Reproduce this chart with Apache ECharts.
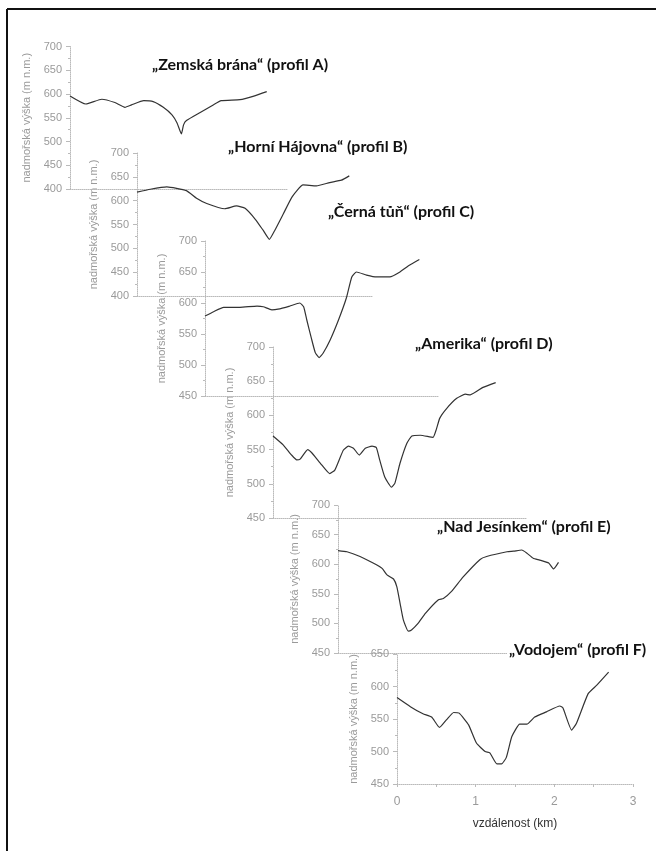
<!DOCTYPE html>
<html>
<head>
<meta charset="utf-8">
<script src="https://cdn.jsdelivr.net/npm/echarts@6/dist/echarts.min.js"></script>
<style>
  html, body { margin: 0; padding: 0; background: #fff; }
  #chart { width: 656px; height: 851px; }
</style>
</head>
<body>
<div id="chart"></div>
<script>
// Elevation profiles: distance along profile (km) and altitude (m n.m.)
const profileAKm   = [0, 0.22, 0.44, 0.62, 0.76, 0.85, 1.02, 1.15, 1.29, 1.41, 1.48, 1.54, 1.57, 1.61, 1.80, 1.98, 2.09, 2.35, 2.53, 2.72];
const profileAElev = [596, 579, 589, 582, 572, 577, 586, 584, 572, 556, 539, 516, 535, 544, 561, 577, 586, 588, 595, 605];

const profileBKm   = [0, 0.17, 0.38, 0.63, 0.76, 0.89, 1.12, 1.27, 1.38, 1.51, 1.61, 1.69, 1.76, 1.87, 1.98, 2.12, 2.29, 2.46, 2.61, 2.71];
const profileBElev = [618, 624, 629, 621, 605, 594, 583, 589, 584, 561, 538, 519, 538, 573, 608, 633, 631, 638, 643, 652];

const profileCKm   = [0, 0.11, 0.24, 0.45, 0.67, 0.75, 0.86, 0.94, 1.09, 1.22, 1.27, 1.31, 1.37, 1.42, 1.47, 1.52, 1.61, 1.72, 1.82, 1.89, 1.95, 2.08, 2.21, 2.38, 2.51, 2.62, 2.76];
const profileCElev = [579, 586, 593, 593, 595, 594, 589, 590, 595, 600, 594, 573, 543, 520, 512, 519, 540, 573, 608, 642, 650, 645, 642, 642, 650, 660, 670];

const profileDKm   = [0, 0.12, 0.22, 0.28, 0.32, 0.41, 0.46, 0.56, 0.67, 0.73, 0.83, 0.89, 0.95, 1.02, 1.09, 1.17, 1.22, 1.26, 1.32, 1.40, 1.44, 1.50, 1.58, 1.64, 1.74, 1.89, 1.93, 1.97, 2.05, 2.17, 2.27, 2.33, 2.48, 2.63];
const profileDElev = [570, 557, 542, 535, 536, 550, 545, 530, 515, 520, 549, 555, 552, 542, 552, 555, 553, 535, 510, 495, 501, 530, 559, 570, 571, 568, 580, 596, 610, 625, 631, 630, 641, 648];

const profileEKm   = [0, 0.11, 0.27, 0.43, 0.54, 0.60, 0.68, 0.72, 0.76, 0.80, 0.86, 0.90, 0.98, 1.07, 1.23, 1.29, 1.39, 1.53, 1.74, 1.82, 2.07, 2.15, 2.25, 2.31, 2.39, 2.47, 2.58, 2.64, 2.70];
const profileEElev = [623, 621, 613, 602, 593, 582, 575, 562, 534, 506, 487, 489, 500, 517, 540, 542, 554, 578, 608, 613, 621, 622, 624, 619, 610, 607, 602, 592, 603];

const profileFKm   = [0, 0.17, 0.33, 0.44, 0.54, 0.63, 0.72, 0.79, 0.91, 1.01, 1.12, 1.18, 1.27, 1.33, 1.39, 1.46, 1.56, 1.65, 1.75, 1.90, 2.07, 2.11, 2.22, 2.28, 2.43, 2.54, 2.69];
const profileFElev = [583, 569, 558, 553, 537, 549, 560, 559, 541, 513, 500, 498, 481, 481, 491, 523, 542, 542, 553, 561, 570, 567, 533, 543, 589, 602, 622];

const profileTitles = [
  '„Zemská brána“ (profil A)',
  '„Horní Hájovna“ (profil B)',
  '„Černá tůň“ (profil C)',
  '„Amerika“ (profil D)',
  '„Nad Jesínkem“ (profil E)',
  '„Vodojem“ (profil F)'
];
const yMins = [400, 400, 450, 450, 450, 450];
const yMaxs = [700, 700, 700, 700, 700, 650];
const xMaxKm = 3;
const xTickLabels = ['0', '1', '2', '3'];
const yAxisName = 'nadmořská výška (m n.m.)';
const xAxisName = 'vzdálenost (km)';

const profiles = [
  [profileAKm, profileAElev],
  [profileBKm, profileBElev],
  [profileCKm, profileCElev],
  [profileDKm, profileDElev],
  [profileEKm, profileEElev],
  [profileFKm, profileFElev]
];

// panel placement (px)
const panels = [
  { left: 70,  top: 46.5, width: 217, height: 142.5 },
  { left: 137, top: 153,  width: 235, height: 143 },
  { left: 205, top: 241,  width: 233, height: 155 },
  { left: 273, top: 347,  width: 254, height: 171 },
  { left: 338, top: 505,  width: 245, height: 148 },
  { left: 397, top: 654,  width: 236, height: 130 }
];
const titlePos = [
  { left: 150, top: 57 },
  { left: 226, top: 139 },
  { left: 326, top: 204 },
  { left: 413, top: 336 },
  { left: 435, top: 519 },
  { left: 507, top: 642 }
];

const gray = '#9a9a9a';
const lineGray = '#bababa';
const labelFont = '"Liberation Sans", Arial, sans-serif';
const last = profiles.length - 1;

const option = {
  animation: false,
  backgroundColor: '#fff',
  title: profileTitles.map((t, i) => ({
    text: t,
    left: titlePos[i].left,
    top: titlePos[i].top,
    padding: [0, 2],
    backgroundColor: '#fff',
    textStyle: { fontFamily: 'Lato, "Noto Sans", sans-serif', fontWeight: 'bold', fontSize: 16, color: '#111' }
  })),
  grid: panels.map(p => ({ left: p.left, top: p.top, width: p.width, height: p.height })),
  xAxis: panels.map((p, i) => ({
    type: 'value',
    gridIndex: i,
    min: 0,
    max: xMaxKm,
    interval: 1,
    name: i === last ? xAxisName : '',
    nameLocation: 'middle',
    nameGap: 34,
    nameTextStyle: { color: '#333', fontSize: 12, fontFamily: labelFont },
    axisLine: { show: true, onZero: false, lineStyle: { color: lineGray, type: 'dotted', width: 1 } },
    axisTick: { show: i === last, length: 3, lineStyle: { color: lineGray } },
    minorTick: { show: i === last, splitNumber: 2, length: 3, lineStyle: { color: lineGray } },
    axisLabel: {
      show: i === last, color: gray, fontSize: 12, margin: 12, fontFamily: labelFont,
      formatter: v => xTickLabels[Math.round(v)]
    },
    splitLine: { show: false }
  })),
  yAxis: panels.map((p, i) => ({
    type: 'value',
    gridIndex: i,
    min: yMins[i],
    max: yMaxs[i],
    interval: 50,
    name: yAxisName,
    nameLocation: 'middle',
    nameGap: 38,
    nameTextStyle: { color: gray, fontSize: 11, fontFamily: labelFont },
    axisLine: { show: true, onZero: false, lineStyle: { color: lineGray, type: 'dotted', width: 1 } },
    axisTick: { show: true, length: 4, lineStyle: { color: lineGray } },
    minorTick: { show: true, splitNumber: 2, length: 2, lineStyle: { color: lineGray } },
    axisLabel: { color: gray, fontSize: 11, margin: 8, fontFamily: labelFont },
    splitLine: { show: false }
  })),
  series: profiles.map((pr, i) => ({
    type: 'line',
    xAxisIndex: i,
    yAxisIndex: i,
    data: pr[0].map((km, j) => [km, pr[1][j]]),
    showSymbol: false,
    smooth: 0.15,
    lineStyle: { color: '#333', width: 1.2 },
    z: 3
  })),
  graphic: [
    { type: 'line', shape: { x1: 7, y1: 9, x2: 656, y2: 9 }, style: { stroke: '#111', lineWidth: 2 } },
    { type: 'line', shape: { x1: 7, y1: 9, x2: 7, y2: 851 }, style: { stroke: '#111', lineWidth: 2 } }
  ]
};

const chart = echarts.init(document.getElementById('chart'), null, { renderer: 'canvas' });
chart.setOption(option);
</script>
</body>
</html>
